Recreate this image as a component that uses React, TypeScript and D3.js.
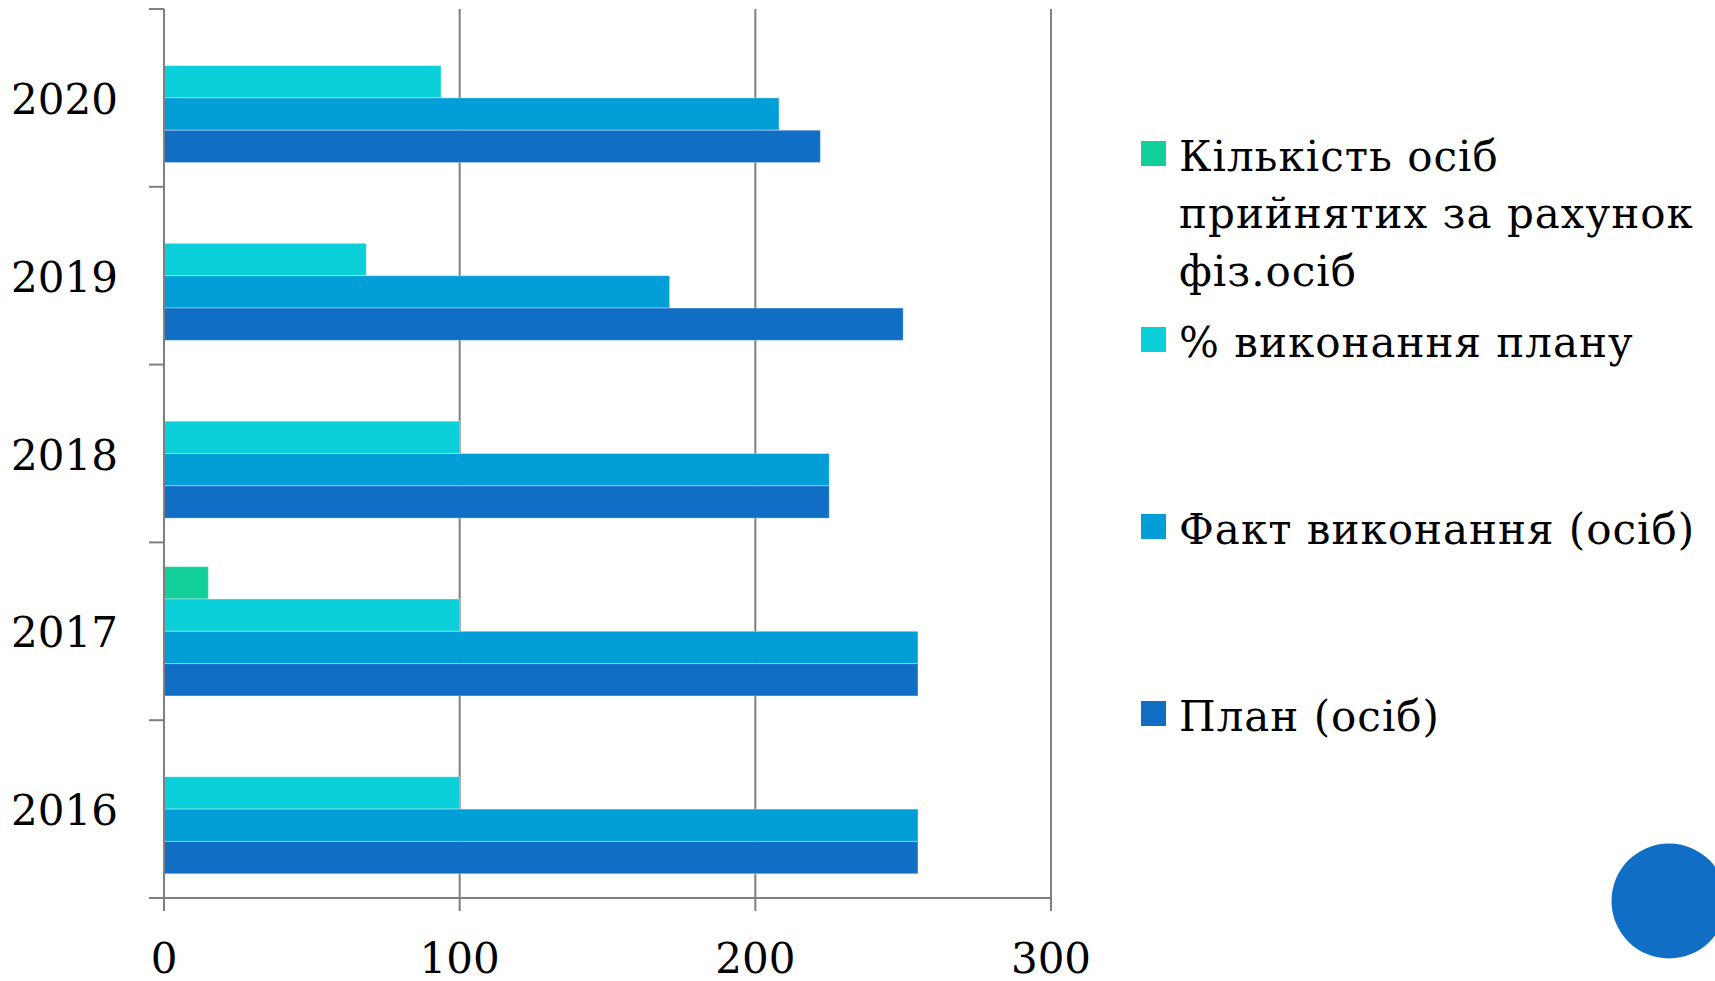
import React from "react";
import * as d3 from "d3";

const years = ["2016", "2017", "2018", "2019", "2020"];
const seriesNames = [
  "Кількість осіб прийнятих за рахунок фіз.осіб",
  "% виконання плану",
  "Факт виконання (осіб)",
  "План (осіб)",
];
const legendLines = [
  ["Кількість осіб", "прийнятих за рахунок", "фіз.осіб"],
  ["% виконання плану"],
  ["Факт виконання (осіб)"],
  ["План (осіб)"],
];
const kilkist = [0, 15, 0, 0, 0];
const pct = [100, 100, 100, 68.4, 93.7];
const fakt = [255, 255, 225, 171, 208];
const plan = [255, 255, 225, 250, 222];
const xTicks = [0, 100, 200, 300];
const colors = ["#12CF99", "#0BD0D9", "#029ED8", "#106EC5"];

const W = 1715;
const H = 981;
const FONT = "'DejaVu Serif', serif";

export default function App() {
  const series = [kilkist, pct, fakt, plan];
  const x = d3.scaleLinear().domain([0, 300]).range([164, 1051]);
  const y = d3
    .scaleBand<string>()
    .domain([...years].reverse())
    .range([9, 898])
    .padding(0);
  const inner = d3
    .scaleBand<number>()
    .domain([0, 1, 2, 3])
    .range([0, y.step()])
    .paddingInner(0)
    .paddingOuter(0.75);

  const catTicks = [...y.domain().map((d) => y(d) as number), 898];
  const legendY = [171, 357, 544, 731];

  return (
    <svg
      width={W}
      height={H}
      style={{ position: "absolute", left: 0, top: 0, background: "#fff" }}
      fontFamily={FONT}
    >
      {xTicks.slice(1).map((t) => (
        <line key={"g" + t} x1={x(t)} x2={x(t)} y1={9} y2={911} stroke="#7f7f7f" strokeWidth={2} />
      ))}
      {years.map((yr, i) =>
        series.map((s, si) =>
          s[i] > 0 ? (
            <rect
              key={yr + si}
              x={x(0)}
              y={(y(yr) as number) + (inner(si) as number)}
              width={x(s[i]) - x(0)}
              height={inner.bandwidth()}
              fill={colors[si]}
              stroke="rgba(255,255,255,0.35)"
              strokeWidth={1}
            />
          ) : null
        )
      )}
      <line x1={x(0)} x2={x(0)} y1={9} y2={911} stroke="#7f7f7f" strokeWidth={2} />
      {catTicks.map((t, i) => (
        <line key={"ct" + i} x1={149} x2={x(0)} y1={t} y2={t} stroke="#7f7f7f" strokeWidth={2} />
      ))}
      <line x1={149} x2={x(300)} y1={898} y2={898} stroke="#7f7f7f" strokeWidth={2} />
      {xTicks.map((t) => (
        <text key={"xl" + t} x={x(t)} y={973} textAnchor="middle" fontSize={42} fill="#000">
          {t}
        </text>
      ))}
      {years.map((yr) => (
        <text
          key={"yl" + yr}
          x={118}
          y={(y(yr) as number) + y.bandwidth() / 2 + 16}
          textAnchor="end"
          fontSize={42}
          fill="#000"
        >
          {yr}
        </text>
      ))}
      {seriesNames.map((name, si) => (
        <g key={"lg" + si}>
          <rect x={1141} y={legendY[si] - 30} width={25} height={25} fill={colors[si]} />
          <text x={1179} y={legendY[si]} fontSize={42} letterSpacing={1} fill="#000">
            {legendLines[si].map((ln, li) => (
              <tspan key={li} x={1179} dy={li === 0 ? 0 : 57.4}>
                {ln}
              </tspan>
            ))}
          </text>
        </g>
      ))}
      <circle cx={1669} cy={901} r={57.5} fill="#106EC5" />
    </svg>
  );
}
